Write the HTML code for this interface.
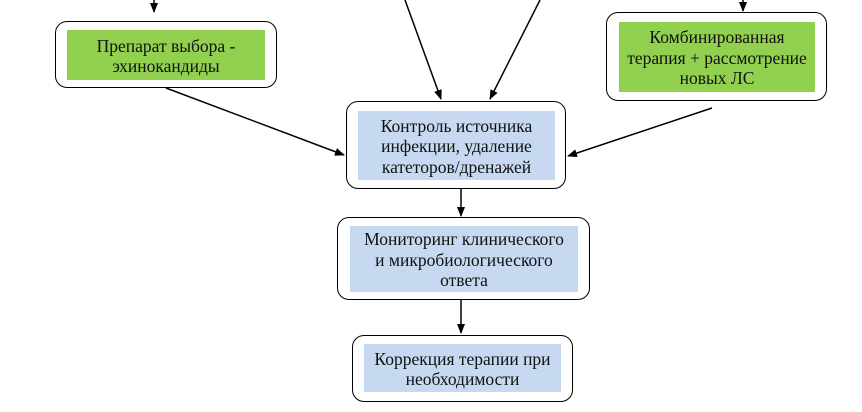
<!DOCTYPE html>
<html><head><meta charset="utf-8"><style>
body{margin:0;width:862px;height:412px;background:#fff;position:relative;overflow:hidden;font-family:"Liberation Serif","DejaVu Serif",serif;}
.o{position:absolute;border:1.5px solid #000;border-radius:12px;box-sizing:border-box;background:#fff}
.i{position:absolute;box-sizing:border-box;display:flex;align-items:center;justify-content:center;text-align:center;font-size:17.5px;line-height:20.5px;color:#111;white-space:nowrap;padding-top:2px}
.g{background:#92d050}.b{background:#c6d9f1}
svg{position:absolute;left:0;top:0}
</style></head><body>
<div class="o" style="left:55px;top:21px;width:222px;height:67px"></div>
<div class="i g" style="left:67px;top:30px;width:198px;height:50px">Препарат выбора -<br>эхинокандиды</div>
<div class="o" style="left:606px;top:12px;width:221px;height:89px"></div>
<div class="i g" style="left:619px;top:22px;width:196px;height:70px">Комбинированная<br>терапия + рассмотрение<br>новых ЛС</div>
<div class="o" style="left:346px;top:101px;width:220px;height:88px"></div>
<div class="i b" style="left:358px;top:111px;width:197px;height:69px">Контроль источника<br>инфекции, удаление<br>катеторов/дренажей</div>
<div class="o" style="left:337px;top:217px;width:253px;height:83px"></div>
<div class="i b" style="left:350px;top:226px;width:228px;height:66px">Мониторинг клинического<br>и микробиологического<br>ответа</div>
<div class="o" style="left:352px;top:335px;width:221px;height:67px"></div>
<div class="i b" style="left:364px;top:344px;width:197px;height:48px">Коррекция терапии при<br>необходимости</div>
<svg width="862" height="412">
<defs><marker id="a" markerWidth="10" markerHeight="10" refX="9" refY="5" orient="auto" markerUnits="userSpaceOnUse"><path d="M0,1 L10,5 L0,9 z" fill="#000"/></marker></defs>
<g stroke="#000" stroke-width="1.5" marker-end="url(#a)">
<line x1="154" y1="0" x2="154" y2="12"/>
<line x1="743" y1="0" x2="743" y2="11"/>
<line x1="405" y1="0" x2="441" y2="99"/>
<line x1="540" y1="0" x2="490" y2="99"/>
<line x1="166" y1="88" x2="344" y2="155"/>
<line x1="712" y1="108" x2="568" y2="156"/>
<line x1="461" y1="189" x2="461" y2="216"/>
<line x1="461" y1="300" x2="461" y2="333"/>
</g></svg>
</body></html>
